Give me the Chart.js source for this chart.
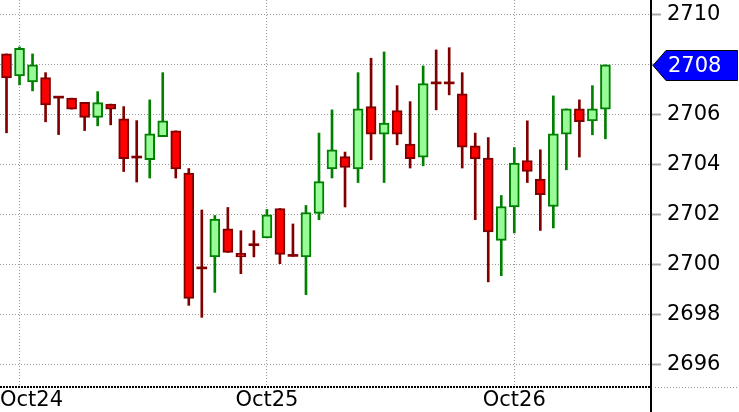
<!DOCTYPE html>
<html>
<head>
<meta charset="utf-8">
<script src="https://cdn.jsdelivr.net/npm/chart.js@4.4.1/dist/chart.umd.min.js"></script>
<style>
  html, body { margin: 0; padding: 0; background: #fff; }
  #wrap { width: 739px; height: 412px; }
</style>
</head>
<body>
<div id="wrap"><canvas id="chart" width="739" height="412"></canvas></div>
<script>
// day labels and the candle where each day starts
const days = ["Oct24", "Oct25", "Oct26"];
const dayFirstCandle = [1, 20, 39];
const emptySlots = 3;

// OHLC
const open = [2708.44, 2707.56, 2707.32, 2707.49, 2706.67, 2706.67, 2706.50, 2705.90, 2706.43, 2705.84,
  2704.27, 2704.20, 2705.13, 2705.36, 2703.67, 2699.83, 2700.31, 2701.43, 2700.45, 2700.76,
  2701.07, 2702.25, 2700.33, 2700.31, 2702.05, 2703.83, 2704.33, 2703.83, 2706.33, 2705.23,
  2706.17, 2704.83, 2704.31, 2707.24, 2707.24, 2706.84, 2704.76, 2704.27, 2700.97, 2702.31,
  2704.17, 2703.43, 2702.33, 2705.23, 2706.24, 2705.76, 2706.23];
const high = [2708.44, 2708.72, 2708.44, 2707.69, 2706.67, 2706.67, 2706.50, 2706.93, 2706.43, 2706.33,
  2705.77, 2706.60, 2707.69, 2705.36, 2703.85, 2702.19, 2701.97, 2702.29, 2701.36, 2701.36,
  2702.21, 2702.25, 2701.63, 2702.37, 2705.27, 2706.20, 2704.51, 2707.69, 2708.27, 2708.52,
  2707.17, 2706.53, 2707.96, 2708.60, 2708.69, 2707.69, 2705.27, 2705.09, 2702.77, 2704.69,
  2705.76, 2704.60, 2706.76, 2706.24, 2706.60, 2707.17, 2708.00];
const low = [2705.28, 2707.20, 2706.96, 2705.72, 2705.21, 2706.23, 2705.37, 2705.56, 2705.60, 2703.73,
  2703.31, 2703.47, 2705.13, 2703.47, 2698.37, 2697.89, 2698.89, 2700.49, 2699.64, 2700.31,
  2701.07, 2700.04, 2700.33, 2698.80, 2701.80, 2703.47, 2702.31, 2703.29, 2704.20, 2703.29,
  2704.80, 2703.87, 2703.96, 2706.20, 2706.80, 2703.87, 2701.80, 2699.31, 2699.56, 2701.27,
  2703.29, 2701.37, 2701.47, 2703.80, 2704.31, 2705.20, 2705.04];
const close = [2707.48, 2708.66, 2708.00, 2706.40, 2706.67, 2706.23, 2705.90, 2706.49, 2706.23, 2704.24,
  2704.27, 2705.24, 2705.76, 2703.83, 2698.65, 2699.83, 2701.83, 2700.49, 2700.31, 2700.76,
  2702.00, 2700.41, 2700.33, 2702.09, 2703.33, 2704.60, 2703.89, 2706.24, 2705.23, 2705.67,
  2705.23, 2704.24, 2707.25, 2707.24, 2707.24, 2704.71, 2704.23, 2701.31, 2702.33, 2704.07,
  2703.73, 2702.80, 2705.24, 2706.24, 2705.73, 2706.24, 2708.00];

const yMin = 2695.1;
const yMax = 2710.6;
const yStep = 2;

const slots = [];
for (let i = 0; i < open.length + emptySlots; i++) slots.push("c" + i);

const FONT = "'DejaVu Sans', Verdana, sans-serif";

function kind(i) {
  if (close[i] > open[i]) return "up";
  if (close[i] < open[i]) return "down";
  return "doji";
}
const fills = { up: "#98fb98", down: "#ff0000", doji: "#800000" };
const edges = { up: "#008000", down: "#800000", doji: "#800000" };

const decor = {
  id: "decor",
  afterDraw(chart) {
    const ctx = chart.ctx;
    const { left, right, bottom } = chart.chartArea;
    const xs = chart.scales.x;
    const ys = chart.scales.y;
    ctx.save();

    // dotted base line
    ctx.setLineDash([2, 1]);
    ctx.strokeStyle = "#000";
    ctx.lineWidth = 2;
    ctx.beginPath();
    ctx.moveTo(left, bottom);
    ctx.lineTo(right, bottom);
    ctx.stroke();
    ctx.setLineDash([1, 2]);
    ctx.strokeStyle = "#999";
    ctx.lineWidth = 1;
    ctx.beginPath();
    ctx.moveTo(right + 4, bottom + 0.5);
    ctx.lineTo(chart.width, bottom + 0.5);
    ctx.stroke();

    // price axis line
    ctx.setLineDash([]);
    ctx.strokeStyle = "#000";
    ctx.lineWidth = 2;
    ctx.beginPath();
    ctx.moveTo(right, 0);
    ctx.lineTo(right, chart.height);
    ctx.stroke();

    // day labels
    ctx.font = "21px " + FONT;
    ctx.fillStyle = "#000";
    ctx.textBaseline = "middle";
    ctx.textAlign = "left";
    days.forEach((d, i) => {
      const w = ctx.measureText(d).width;
      const px = Math.max(0, xs.getPixelForValue(dayFirstCandle[i]) - w / 2);
      ctx.fillText(d, px, bottom + 14);
    });

    // last price tag
    const last = close[close.length - 1];
    const py = Math.round(ys.getPixelForValue(last)) + 0.5;
    const tip = right + 2;
    ctx.beginPath();
    ctx.moveTo(tip, py);
    ctx.lineTo(tip + 13, py - 15);
    ctx.lineTo(737.5, py - 15);
    ctx.lineTo(737.5, py + 15);
    ctx.lineTo(tip + 13, py + 15);
    ctx.closePath();
    ctx.fillStyle = "#0000ff";
    ctx.fill();
    ctx.lineWidth = 1;
    ctx.strokeStyle = "#000";
    ctx.stroke();
    ctx.fillStyle = "#fff";
    ctx.fillText(last.toFixed(0), right + 17, py + 1);

    ctx.restore();
  }
};

new Chart(document.getElementById("chart"), {
  type: "bar",
  data: {
    labels: slots,
    datasets: [
      {
        label: "body",
        data: open.map((o, i) => [o, close[i]]),
        backgroundColor: (c) => fills[kind(c.dataIndex)],
        borderColor: (c) => edges[kind(c.dataIndex)],
        borderWidth: (c) => (kind(c.dataIndex) === "doji" ? 0 : 2),
        borderSkipped: false,
        barThickness: 10,
        minBarLength: 2,
        grouped: false,
        order: 0,
      },
      {
        label: "wick",
        data: low.map((l, i) => [l, high[i]]),
        backgroundColor: (c) => edges[kind(c.dataIndex)],
        borderWidth: 0,
        barThickness: 2,
        grouped: false,
        order: 1,
      },
    ],
  },
  options: {
    responsive: false,
    animation: false,
    layout: { padding: 0 },
    plugins: { legend: { display: false }, tooltip: { enabled: false } },
    scales: {
      x: {
        offset: true,
        grid: {
          offset: false,
          drawTicks: false,
          color: (c) => (dayFirstCandle.includes(c.index) ? "#999" : "rgba(0,0,0,0)"),
          lineWidth: 1,
        },
        border: { display: false, dash: [1, 2] },
        ticks: { display: false, autoSkip: false },
        afterFit: (s) => { s.height = 25; s.paddingLeft = 0; s.paddingRight = 0; },
      },
      y: {
        position: "right",
        min: yMin,
        max: yMax,
        grid: {
          color: "#999",
          lineWidth: 1,
          tickLength: 10,
          tickColor: "#aaa",
          tickWidth: 2,
          tickBorderDash: [],
        },
        border: { display: false, dash: [1, 2] },
        ticks: {
          stepSize: yStep,
          includeBounds: false,
          padding: 6,
          color: "#000",
          font: { family: FONT, size: 21 },
          callback: (v) => String(v),
        },
        afterFit: (s) => { s.width = 88; s.paddingTop = 0; s.paddingBottom = 0; },
      },
    },
  },
  plugins: [decor],
});
</script>
</body>
</html>
